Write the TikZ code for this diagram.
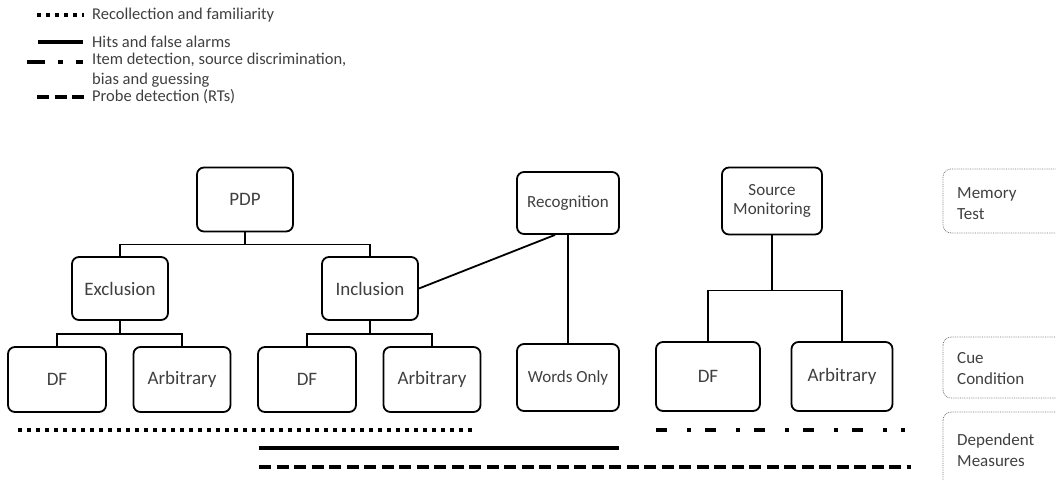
\documentclass[tikz,border=0pt]{standalone}
\usepackage{fontspec}
\setmainfont{Carlito}
\usetikzlibrary{positioning}
\definecolor{txtgray}{RGB}{64,64,64}
\begin{document}
\begin{tikzpicture}[x=1pt,y=-1pt,
  box/.style={draw,line width=1.8pt,rounded corners=7pt,minimum width=96pt,minimum height=64pt,inner sep=2pt,text=txtgray,font=\fontsize{19}{21}\selectfont},
  smallbox/.style={box,align=center,font=\fontsize{17}{19}\selectfont},
  link/.style={line width=1.8pt},
  tag/.style={draw=black!55,densely dotted,line width=0.8pt,rounded corners=8pt},
  tagtext/.style={anchor=north west,align=left,inner sep=0pt,text=txtgray,font=\fontsize{17}{21}\selectfont},
  legtext/.style={anchor=west,align=left,inner sep=0pt,text=txtgray,font=\fontsize{16.5}{19.5}\selectfont},
  measure/.style={line width=4pt},
  dotline/.style={measure,dash pattern=on 4pt off 5pt},
  dashline/.style={measure,dash pattern=on 12pt off 5.5pt},
  dashdotline/.style={measure,dash pattern=on 11pt off 20pt on 4pt off 14pt}
]
\path[use as bounding box,clip] (0,0) rectangle (1056,479);

% Legend
\draw[dotline] (37,15) -- (84,15);
\node[legtext] (legrec) at (92,15) {Recollection and familiarity};
\draw[measure] (38,42) -- (83,42);
\node[legtext] (leghits) at (92,42) {Hits and false alarms};
\draw[measure,dash pattern=on 18pt off 13pt on 5pt off 13pt] (27,62) -- (83,62);
\node[legtext,anchor=north west] (legitem) at (92,53) {Item detection, source discrimination,\\bias and guessing};
\draw[dashline] (37,97) -- (84,97);
\node[legtext] (legprobe) at (92,97) {Probe detection (RTs)};

% Memory tests
\node[box] (pdp) at (245,199.5) {PDP};
\node[smallbox,minimum width=102pt,minimum height=62pt] (recog) at (568,203) {Recognition};
\node[smallbox,minimum width=100pt,minimum height=67pt] (srcmon) at (772,201) {Source\\Monitoring};
\node[box,minimum height=63pt] (excl) at (120,288.5) {Exclusion};
\node[box,minimum height=63pt] (incl) at (370,288.5) {Inclusion};

% Cue conditions
\node[box,minimum width=98pt,minimum height=65pt] (dfa) at (57,379.5) {DF};
\node[box,minimum width=97pt,minimum height=65pt] (arba) at (182,379.5) {Arbitrary};
\node[box,minimum width=98pt,minimum height=65pt] (dfb) at (307,379.5) {DF};
\node[box,minimum width=97pt,minimum height=65pt] (arbb) at (432,379.5) {Arbitrary};
\node[smallbox,minimum width=102pt,minimum height=67pt] (words) at (568,377.5) {Words Only};
\node[box,minimum width=104pt,minimum height=69pt] (dfc) at (708,376.5) {DF};
\node[box,minimum width=101pt,minimum height=69pt] (arbc) at (842,376.5) {Arbitrary};

% Tree links
\draw[link] (pdp.south) -- ++(0,12) coordinate (pdpfork);
\draw[link] (excl.north) |- (pdpfork) -| (incl.north);
\draw[link] (excl.south) -- ++(0,13) coordinate (exclfork);
\draw[link] (dfa.north) |- (exclfork) -| (arba.north);
\draw[link] (incl.south) -- ++(0,13) coordinate (inclfork);
\draw[link] (dfb.north) |- (inclfork) -| (arbb.north);
\draw[link] (srcmon.south) -- ++(0,55) coordinate (srcfork);
\draw[link] (dfc.north) |- (srcfork) -| (arbc.north);
\draw[link] (recog.south) -- (words.north);
\draw[link] (incl.east) -- ([xshift=-13pt]recog.south);

% Dependent measures
\draw[dotline] (18,430) -- (472,430);
\draw[dashdotline] (656,430) -- (905,430);
\draw[measure] (259,448) -- (619,448);
\draw[dashline] (259,467) -- (911,467);

% Level tags
\draw[tag] (943,169) rectangle (1075,233);
\node[tagtext] (tagmem) at (957,187) {Memory\\Test};
\draw[tag] (943,337) rectangle (1075,398);
\node[tagtext] (tagcue) at (957,352) {Cue\\Condition};
\draw[tag] (943,412) rectangle (1075,500);
\node[tagtext] (tagdep) at (957,433) {Dependent\\Measures};
\end{tikzpicture}
\end{document}
